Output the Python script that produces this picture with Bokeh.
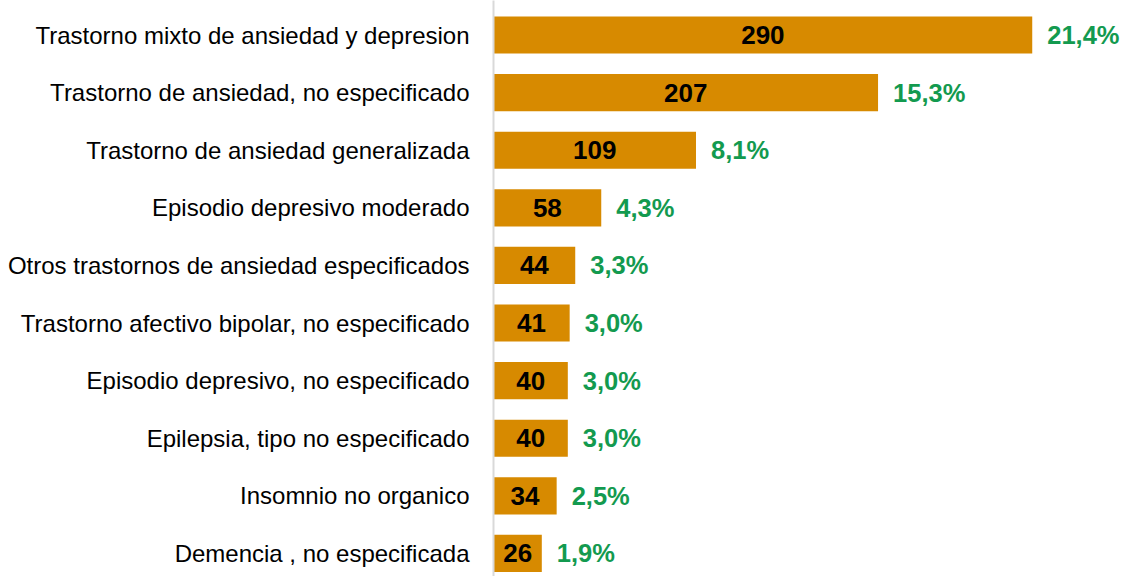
from bokeh.plotting import figure
from bokeh.models import Range1d, FixedTicker, ColumnDataSource
from bokeh.core.properties import value
from bokeh.embed import file_html
from bokeh.resources import INLINE

categories = [
    "Trastorno mixto de ansiedad y depresion",
    "Trastorno de ansiedad, no especificado",
    "Trastorno de ansiedad generalizada",
    "Episodio depresivo moderado",
    "Otros trastornos de ansiedad especificados",
    "Trastorno afectivo bipolar, no especificado",
    "Episodio depresivo, no especificado",
    "Epilepsia, tipo no especificado",
    "Insomnio no organico",
    "Demencia , no especificada",
]
counts = [290, 207, 109, 58, 44, 41, 40, 40, 34, 26]
percents = ["21,4%", "15,3%", "8,1%", "4,3%", "3,3%", "3,0%", "3,0%", "3,0%", "2,5%", "1,9%"]

ypos = list(range(len(categories)))
src = ColumnDataSource(dict(
    y=ypos,
    count=counts,
    mid=[c / 2 for c in counts],
    clabel=[str(c) for c in counts],
    plabel=percents,
))

FONT = "Liberation Sans"
W, H = 1125, 576
p = figure(width=W, height=H, output_backend="svg", toolbar_location=None,
           x_range=Range1d(0, 340.2), y_range=Range1d(9.401, -0.599),
           min_border_left=493, min_border_right=0, min_border_top=0, min_border_bottom=0)
p.outline_line_color = None
p.grid.visible = False
p.xaxis.visible = False

p.hbar(y="y", right="count", left=0, height=0.645, source=src,
       fill_color="#D78A00", line_color=None)

p.text(x="mid", y="y", text="clabel", source=src, text_align="center", text_baseline="middle",
       text_font=value(FONT), text_font_style="bold", text_font_size="26px", text_color="black")
p.text(x="count", y="y", text="plabel", source=src, text_align="left", text_baseline="middle",
       x_offset=15, text_font=value(FONT), text_font_style="bold", text_font_size="25.5px",
       text_color="#139A4F")

ax = p.yaxis[0]
ax.ticker = FixedTicker(ticks=ypos)
ax.major_label_overrides = {i: c for i, c in enumerate(categories)}
ax.major_label_text_font = FONT
ax.major_label_text_font_size = "24px"
ax.major_label_text_color = "black"
ax.major_tick_line_color = None
ax.minor_tick_line_color = None
ax.axis_line_color = "#D9D9D9"
ax.axis_line_width = 2
ax.major_label_standoff = 18

open("out.html", "w").write(file_html(p, INLINE))
